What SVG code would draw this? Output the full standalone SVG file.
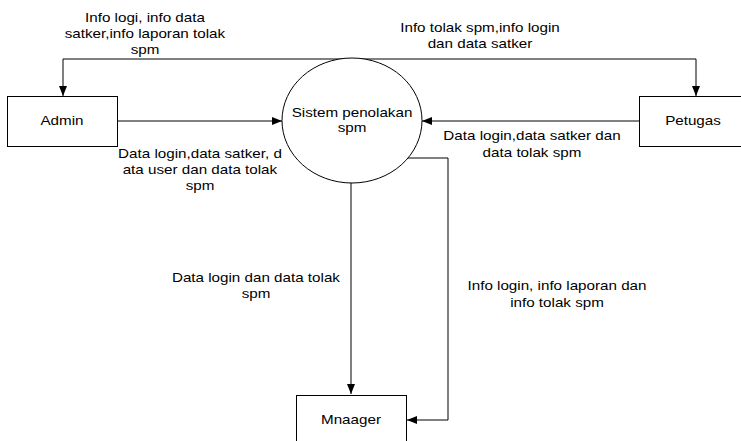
<svg xmlns="http://www.w3.org/2000/svg" width="741" height="441" viewBox="0 0 741 441">
<style>
.box{fill:#fff;stroke:#000;stroke-width:1}
.ln{fill:none;stroke:#000;stroke-width:1}
text{font-family:"Liberation Sans",Arial,sans-serif;font-size:13px;fill:#000;text-anchor:middle;transform-box:fill-box;transform-origin:center;transform:scaleX(1.17)}
</style>
<defs>
<marker id="ah" viewBox="0 0 10 10" refX="10" refY="5" markerWidth="10" markerHeight="10" markerUnits="userSpaceOnUse" orient="auto">
<path d="M0,1 L10,5 L0,9 Z" fill="#000"/>
</marker>
</defs>
<rect width="741" height="441" fill="#fff"/>
<g id="connectors">
<path class="ln" d="M352,59 H63 V96" marker-end="url(#ah)"/>
<path class="ln" d="M352,59 H696 V96" marker-end="url(#ah)"/>
<path class="ln" d="M117,121 H282" marker-end="url(#ah)"/>
<path class="ln" d="M639,121 H422" marker-end="url(#ah)"/>
<path class="ln" d="M351,183 V394" marker-end="url(#ah)"/>
<path class="ln" d="M406,158 H448 V420 H407" marker-end="url(#ah)"/>
<text x="145" y="22">Info logi, info data</text>
<text x="145" y="38">satker,info laporan tolak</text>
<text x="145" y="54">spm</text>
<text x="480" y="32">Info tolak spm,info login</text>
<text x="480" y="48">dan data satker</text>
<text x="200" y="158">Data login,data satker, d</text>
<text x="200" y="174">ata user dan data tolak</text>
<text x="200" y="190">spm</text>
<text x="532" y="140">Data login,data satker dan</text>
<text x="532" y="157">data tolak spm</text>
<text x="256" y="282">Data login dan data tolak</text>
<text x="256" y="298">spm</text>
<text x="557" y="290">Info login, info laporan dan</text>
<text x="557" y="307">info tolak spm</text>
</g>
<g id="admin">
<rect class="box" x="7.5" y="96.5" width="110" height="50"/>
<text x="62" y="125">Admin</text>
</g>
<g id="petugas">
<rect class="box" x="639.5" y="96.5" width="110" height="50"/>
<text x="693" y="125">Petugas</text>
</g>
<g id="sistem">
<ellipse class="box" cx="352" cy="120.5" rx="70" ry="62.5"/>
<text x="352" y="117">Sistem penolakan</text>
<text x="352" y="132">spm</text>
</g>
<g id="manager">
<rect class="box" x="296.5" y="395.5" width="110" height="60"/>
<text x="351" y="424">Mnaager</text>
</g>
</svg>
